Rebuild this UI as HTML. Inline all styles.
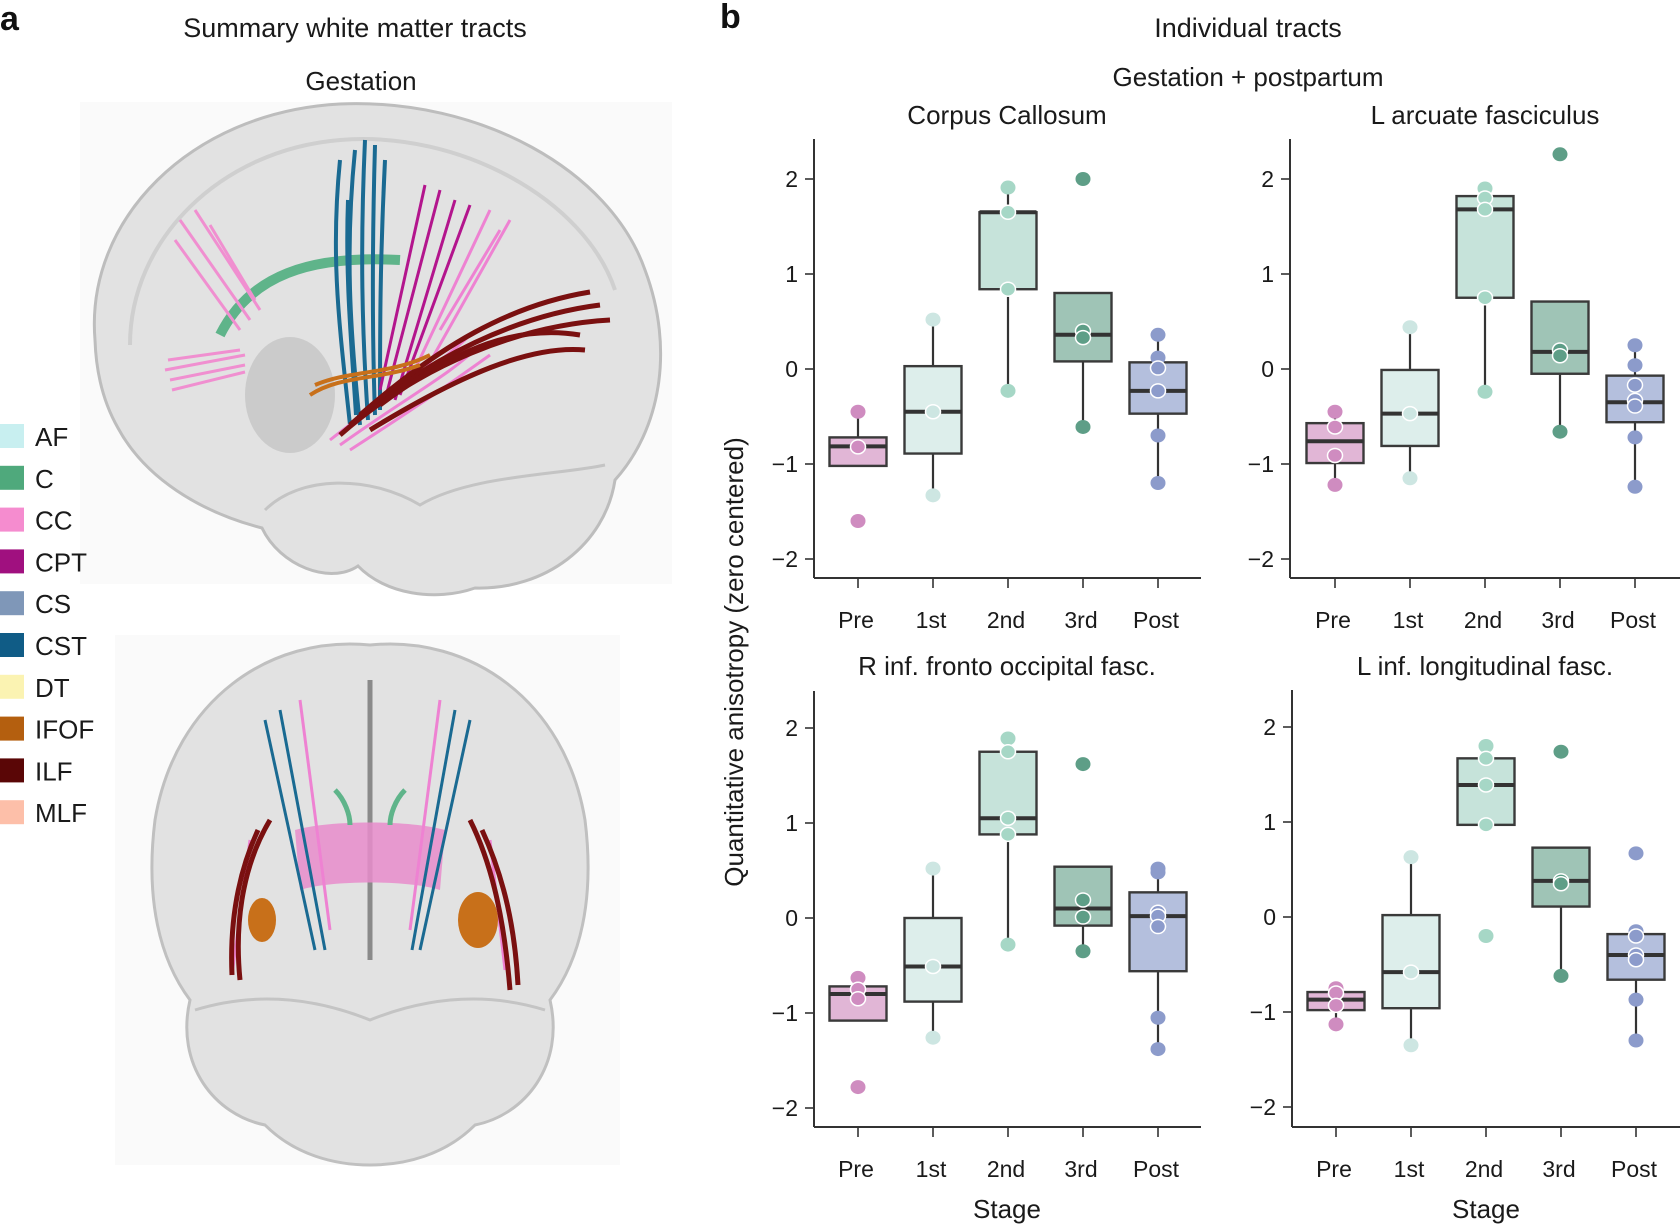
<!DOCTYPE html>
<html><head><meta charset="utf-8">
<style>
html,body{margin:0;padding:0;background:#fff;}
body{width:1680px;height:1224px;position:relative;overflow:hidden;font-family:"Liberation Sans",sans-serif;color:#1a1a1a;}
</style></head>
<body>
<svg id="fig" width="1680" height="1224" viewBox="0 0 1680 1224" xmlns="http://www.w3.org/2000/svg" style="position:absolute;left:0;top:0;font-family:'Liberation Sans',sans-serif;">
  <text x="0" y="30" font-size="34" font-weight="bold" fill="#111">a</text>
  <text x="720" y="28" font-size="34" font-weight="bold" fill="#111">b</text>
  <text x="355" y="37" font-size="27" text-anchor="middle" fill="#1a1a1a">Summary white matter tracts</text>
  <text x="361" y="90" font-size="26" text-anchor="middle" fill="#1a1a1a">Gestation</text>
  <text x="1248" y="37" font-size="27" text-anchor="middle" fill="#1a1a1a">Individual tracts</text>
  <text x="1248" y="86" font-size="26" text-anchor="middle" fill="#1a1a1a">Gestation + postpartum</text>

  <!-- sagittal brain -->
  <g>
    <rect x="80" y="102" width="592" height="482" fill="#fafafa"/>
    <path d="M95,340 C85,220 190,112 340,104 C480,98 610,170 645,270 C675,350 660,430 615,480 C605,545 545,590 475,588 C435,602 385,594 358,566 C330,585 280,566 262,528 C200,512 145,478 118,428 C102,400 96,370 95,340 Z" fill="#e2e2e2" stroke="#bdbdbd" stroke-width="3"/>
    <path d="M130,345 C130,240 220,150 340,140 C460,130 585,200 615,290" fill="none" stroke="#cfcfcf" stroke-width="4"/>
    <path d="M265,510 C300,475 370,475 420,505 C470,475 560,475 605,465" fill="none" stroke="#c4c4c4" stroke-width="3"/>
    <ellipse cx="290" cy="395" rx="45" ry="58" fill="#bdbdbd" opacity="0.6"/>
    <path d="M220,335 C250,275 310,255 400,260" fill="none" stroke="#5fb48a" stroke-width="10"/>
    <g stroke="#f08fd0" stroke-width="3" fill="none">
      <path d="M180,220 L250,320"/><path d="M195,210 L260,310"/><path d="M175,240 L240,330"/><path d="M210,225 L255,300"/>
      <path d="M165,370 L245,355"/><path d="M170,380 L245,365"/><path d="M168,360 L240,350"/><path d="M172,390 L245,372"/>
    </g>
    <g stroke="#1a6a92" stroke-width="4" fill="none">
      <path d="M340,160 C330,260 340,330 350,425"/><path d="M355,150 C345,250 350,330 360,425"/><path d="M365,140 C360,250 362,330 368,420"/><path d="M375,145 C372,250 372,330 375,415"/><path d="M385,160 C380,260 380,330 380,410"/><path d="M348,200 C345,280 352,350 356,415"/>
    </g>
    <g stroke="#b3158d" stroke-width="3" fill="none">
      <path d="M440,190 L385,400"/><path d="M455,200 L395,400"/><path d="M470,205 L400,395"/><path d="M425,185 L380,390"/>
    </g>
    <g stroke="#ee82d2" stroke-width="3" fill="none">
      <path d="M490,210 L410,380"/><path d="M510,220 L420,380"/><path d="M500,230 L440,330"/>
      <path d="M330,440 C400,385 440,365 470,335"/><path d="M340,445 C410,395 450,375 480,345"/><path d="M350,450 C420,405 455,380 490,355"/>
    </g>
    <g stroke="#7a1010" stroke-width="5" fill="none">
      <path d="M340,435 C420,365 520,325 610,320"/><path d="M350,425 C430,355 520,315 600,305"/><path d="M360,415 C440,345 510,305 590,292"/><path d="M370,430 C460,375 530,345 585,350"/><path d="M380,405 C460,345 520,325 580,335"/>
    </g>
    <g stroke="#c8701a" stroke-width="4" fill="none">
      <path d="M310,395 C340,375 380,380 420,365"/><path d="M315,385 C350,370 390,375 430,355"/>
    </g>
  </g>

  <!-- coronal brain -->
  <g>
    <rect x="115" y="635" width="505" height="530" fill="#fafafa"/>
    <path d="M370,645 C470,635 565,700 585,820 C595,900 580,960 550,1000 C565,1065 525,1115 475,1125 C445,1155 405,1165 370,1165 C335,1165 295,1155 265,1125 C215,1115 175,1065 190,1000 C160,960 145,900 155,820 C175,700 270,635 370,645 Z" fill="#e2e2e2" stroke="#c0c0c0" stroke-width="3"/>
    <path d="M195,1010 C260,990 320,1000 370,1020 C420,1000 480,990 545,1010" fill="none" stroke="#c4c4c4" stroke-width="3"/>
    <path d="M370,680 L370,960" stroke="#8a8a8a" stroke-width="5"/>
    <path d="M295,830 C330,820 410,820 445,830 L440,890 C410,880 330,880 300,890 Z" fill="#e88ccb" opacity="0.85"/>
    <g stroke="#1a6a92" stroke-width="3" fill="none">
      <path d="M265,720 L315,950"/><path d="M280,710 L325,950"/><path d="M470,720 L420,950"/><path d="M455,710 L412,950"/>
    </g>
    <g stroke="#ee82d2" stroke-width="3" fill="none">
      <path d="M300,700 L330,930"/><path d="M440,700 L410,930"/><path d="M250,840 L232,975"/><path d="M490,840 L505,970"/>
    </g>
    <g stroke="#7a1010" stroke-width="5" fill="none">
      <path d="M270,820 C240,870 235,930 240,980"/><path d="M258,830 C235,880 230,930 232,975"/><path d="M470,820 C495,870 505,930 510,990"/><path d="M482,830 C505,880 515,930 518,985"/>
    </g>
    <ellipse cx="262" cy="920" rx="14" ry="22" fill="#c8701a"/>
    <ellipse cx="478" cy="920" rx="20" ry="28" fill="#c8701a"/>
    <g stroke="#5fb48a" stroke-width="5" fill="none"><path d="M335,790 C345,800 350,815 350,825"/><path d="M405,790 C395,800 390,815 390,825"/></g>
  </g>

  <g id="legend"></g>
  <text transform="translate(743,662) rotate(-90)" font-size="26" text-anchor="middle" fill="#1a1a1a">Quantitative anisotropy (zero centered)</text>
  <g id="charts"></g>
</svg>
<script>
const NS='http://www.w3.org/2000/svg';
const legendNames=['AF','C','CC','CPT','CS','CST','DT','IFOF','ILF','MLF'];
const legendColors=['#c8eff0','#4fa97c','#f58ccf','#a0107f','#7f97b8','#105c86','#fbf3b2','#b45f0f','#5a0606','#fdbfa9'];

const categories=['Pre','1st','2nd','3rd','Post'];
const panelTitles=['Corpus Callosum','L arcuate fasciculus','R inf. fronto occipital fasc.','L inf. longitudinal fasc.'];
const yTicks=[-2,-1,0,1,2];
const yTickLabels=['\u22122','\u22121','0','1','2'];

const ccQ1=[-1.02,-0.89,0.84,0.08,-0.47];
const ccMed=[-0.815,-0.45,1.65,0.36,-0.23];
const ccQ3=[-0.72,0.03,1.65,0.80,0.07];
const ccLo=[-1.02,-1.33,-0.23,-0.61,-1.20];
const ccHi=[-0.45,0.52,1.91,0.80,0.36];
const ccPts=[[-0.45,-0.82,-1.6],[0.52,-0.45,-1.33],[1.91,1.65,0.84,-0.23],[2.0,0.40,0.33,-0.61],[0.36,0.12,0.01,-0.23,-0.70,-1.20]];

const afQ1=[-0.99,-0.81,0.75,-0.05,-0.56];
const afMed=[-0.76,-0.47,1.68,0.18,-0.35];
const afQ3=[-0.57,-0.01,1.82,0.71,-0.07];
const afLo=[-1.22,-1.15,-0.24,-0.66,-1.24];
const afHi=[-0.45,0.44,1.90,0.71,0.25];
const afPts=[[-0.45,-0.61,-0.91,-1.22],[0.44,-0.47,-1.15],[1.90,1.80,1.68,0.75,-0.24],[2.26,0.20,0.14,-0.66],[0.25,0.04,-0.17,-0.33,-0.39,-0.72,-1.24]];

const ifofQ1=[-1.08,-0.88,0.88,-0.08,-0.56];
const ifofMed=[-0.80,-0.51,1.05,0.10,0.02];
const ifofQ3=[-0.72,0.0,1.75,0.54,0.27];
const ifofLo=[-1.08,-1.26,-0.28,-0.35,-1.38];
const ifofHi=[-0.63,0.52,1.89,0.54,0.52];
const ifofPts=[[-0.63,-0.75,-0.85,-1.78],[0.52,-0.51,-1.26],[1.89,1.75,1.05,0.88,-0.28],[1.62,0.19,0.01,-0.35],[0.52,0.48,0.06,0.02,-0.09,-1.05,-1.38]];

const ilfQ1=[-0.98,-0.96,0.97,0.11,-0.66];
const ilfMed=[-0.87,-0.58,1.39,0.38,-0.40];
const ilfQ3=[-0.79,0.02,1.67,0.73,-0.18];
const ilfLo=[-1.13,-1.35,0.97,-0.62,-1.30];
const ilfHi=[-0.75,0.63,1.80,0.73,-0.15];
const ilfPts=[[-0.75,-0.80,-0.93,-1.13],[0.63,-0.58,-1.35],[1.80,1.67,1.39,0.97,-0.20],[1.74,0.38,0.35,-0.62],[0.67,-0.15,-0.20,-0.40,-0.45,-0.87,-1.30]];

const fills=['#e1b6d6','#ddeeeb','#c6e3da','#9fc4b6','#b4bfdd'];
const dotColors=['#cf8cc0','#cde6e2','#a6d7c6','#5e9e87','#8c9bcb'];

function mk(tag,attrs,parent){const e=document.createElementNS(NS,tag);for(const k in attrs)e.setAttribute(k,attrs[k]);parent.appendChild(e);return e;}

const lg=document.getElementById('legend');
legendNames.forEach((n,i)=>{
  const y=437+i*41.8;
  const r=mk('rect',{x:0,y:y-13,width:24,height:24,fill:legendColors[i]},lg);
  
  
  const t=mk('text',{x:35,y:y+9,'font-size':26,fill:'#1a1a1a'},lg);
  t.textContent=n;
  
  
});

const panels=[
 {name:'corpus-callosum',left:814,right:1201,top:139,bottom:578,zero:369,unit:95,x0:858,q1:ccQ1,med:ccMed,q3:ccQ3,lo:ccLo,hi:ccHi,pts:ccPts,title:panelTitles[0],ty:124,stage:false},
 {name:'l-arcuate-fasciculus',left:1290,right:1680,top:139,bottom:578,zero:369,unit:95,x0:1335,q1:afQ1,med:afMed,q3:afQ3,lo:afLo,hi:afHi,pts:afPts,title:panelTitles[1],ty:124,stage:false},
 {name:'r-inf-fronto-occipital',left:814,right:1201,top:691,bottom:1127,zero:918,unit:95,x0:858,q1:ifofQ1,med:ifofMed,q3:ifofQ3,lo:ifofLo,hi:ifofHi,pts:ifofPts,title:panelTitles[2],ty:675,stage:true},
 {name:'l-inf-longitudinal',left:1292,right:1680,top:690,bottom:1127,zero:917,unit:95,x0:1336,q1:ilfQ1,med:ilfMed,q3:ilfQ3,lo:ilfLo,hi:ilfHi,pts:ilfPts,title:panelTitles[3],ty:675,stage:true}
];
const charts=document.getElementById('charts');
panels.forEach(p=>{
  const g=mk('g',{},charts);
  
  
  const yS=v=>p.zero-v*p.unit;
  const xS=i=>p.x0+i*75;
  const tt=mk('text',{x:(p.left===814?1007:1485),y:p.ty,'font-size':26,'text-anchor':'middle',fill:'#1a1a1a'},g);
  tt.textContent=p.title;
  
  
  const ya=mk('line',{x1:p.left,y1:p.top,x2:p.left,y2:p.bottom,stroke:'#333',"stroke-width":2},g);
  
  
  const xa=mk('line',{x1:p.left,y1:p.bottom,x2:p.right,y2:p.bottom,stroke:'#333',"stroke-width":2},g);
  
  
  yTicks.forEach((v,i)=>{
    const tk=mk('line',{x1:p.left-9,y1:yS(v),x2:p.left,y2:yS(v),stroke:'#333','stroke-width':1.6},g);
    
    
    const tl=mk('text',{x:p.left-16,y:yS(v)+8,'font-size':23,'text-anchor':'end',fill:'#1a1a1a'},g);
    tl.textContent=yTickLabels[i];
    
    
  });
  categories.forEach((c,i)=>{
    const tk=mk('line',{x1:xS(i),y1:p.bottom,x2:xS(i),y2:p.bottom+10,stroke:'#333','stroke-width':1.6},g);
    
    
    const tl=mk('text',{x:xS(i)-2,y:p.bottom+50,'font-size':23,'text-anchor':'middle',fill:'#1a1a1a'},g);
    tl.textContent=c;
    
    
    const w=mk('line',{x1:xS(i),y1:yS(p.hi[i]),x2:xS(i),y2:yS(p.lo[i]),stroke:'#333','stroke-width':2.2},g);
    
    
    const b=mk('rect',{x:xS(i)-28.5,y:yS(p.q3[i]),width:57,height:yS(p.q1[i])-yS(p.q3[i]),fill:fills[i],stroke:'#3a3a3a','stroke-width':2.4},g);
    
    
    const m=mk('line',{x1:xS(i)-28.5,y1:yS(p.med[i]),x2:xS(i)+28.5,y2:yS(p.med[i]),stroke:'#333','stroke-width':4},g);
    
    
    p.pts[i].forEach(v=>{
      const inside=v<=p.q3[i]+0.001&&v>=p.q1[i]-0.001;
      const d=mk('ellipse',{cx:xS(i),cy:yS(v),rx:7.5,ry:7,fill:dotColors[i],stroke:inside?'#fff':'none','stroke-width':1.5},g);
      
      
    });
  });
  if(p.stage){
    const st=mk('text',{x:(p.left===814?1007:1486),y:1218,'font-size':26,'text-anchor':'middle',fill:'#1a1a1a'},g);
    st.textContent='Stage';
    
    
  }
});
</script>
</body></html>
